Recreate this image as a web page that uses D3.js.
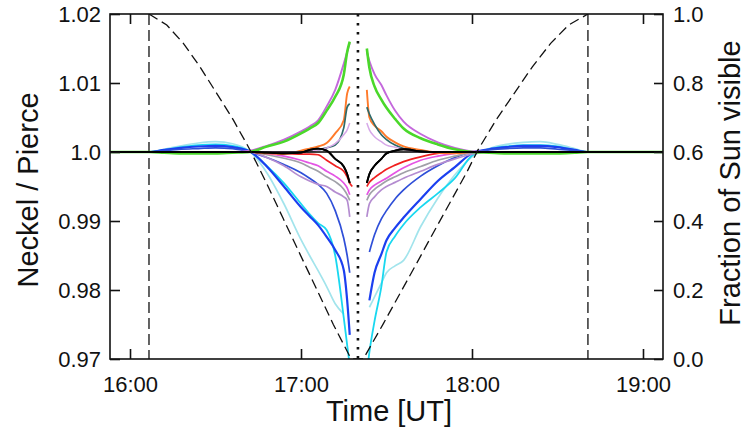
<!DOCTYPE html>
<html><head><meta charset="utf-8">
<script src="https://cdn.jsdelivr.net/npm/d3@7/dist/d3.min.js"></script>
<style>body{margin:0;background:#fff}svg{display:block}text{font-family:"Liberation Sans",Arial,sans-serif;fill:#111}</style>
</head><body>
<svg id="c" width="752" height="430"></svg>
<script>
// ---------- data ----------
const xTicks = [16, 17, 18, 19];
const xTickLabels = ["16:00", "17:00", "18:00", "19:00"];
const yLeftTicks = [1.02, 1.01, 1.0, 0.99, 0.98, 0.97];
const yLeftLabels = ["1.02", "1.01", "1.0", "0.99", "0.98", "0.97"];
const yRightTicks = [1.0, 0.8, 0.6, 0.4, 0.2, 0.0];
const yRightLabels = ["1.0", "0.8", "0.6", "0.4", "0.2", "0.0"];

const firstContact = 16.111, maxEclipse = 17.333, lastContact = 18.678;

// fraction of Sun visible (dashed curve)
const fracTime = [16.111,16.215,16.312,16.409,16.507,16.604,16.702,16.799,16.896,16.994,17.092,17.189,17.287,17.305,
                  17.364,17.481,17.579,17.677,17.774,17.871,17.969,18.035,18.141,18.247,18.353,18.460,18.565,18.678];
const fracVis  = [1.000,0.968,0.915,0.847,0.770,0.693,0.606,0.509,0.407,0.304,0.202,0.100,0.006,0.0,
                  0.0,0.102,0.190,0.278,0.366,0.453,0.541,0.606,0.693,0.770,0.847,0.915,0.968,1.000];

// time grids (hours UT) before and after maximum eclipse
const tLeft  = [15.883,16.111,16.2,16.3,16.4,16.5,16.6,16.7,16.8,16.9,17.0,17.05,17.1,17.15,17.2,17.25,17.27,17.285,17.30];
const tRight = [17.37,17.385,17.40,17.43,17.47,17.5,17.55,17.6,17.7,17.8,17.9,18.0,18.1,18.2,18.3,18.4,18.5,18.6,18.678,19.117];

const _ = null;
const paleCyanL = [1,1,1.0004,1.0009,1.0013,1.0015,1.0012,1.0001,0.997,0.9925,0.9873,0.985,0.9828,0.9805,0.978,0.9765,_,_,_];
const cyanL     = [1,1,1.0003,1.0007,1.001,1.0011,1.0009,1.0001,0.998,0.9955,0.9925,0.991,0.9897,0.9887,0.985,0.976,0.972,0.969,0.965];
const blueAL    = [1,1,1.0003,1.0006,1.0008,1.0009,1.0007,1.0001,0.9979,0.995,0.992,0.9907,0.9894,0.9877,0.9858,0.9829,0.9785,0.9735,_];
const blueBL    = [1,1,1.0002,1.0004,1.0005,1.0006,1.0005,1.0,0.9992,0.9982,0.997,0.9962,0.9953,0.994,0.9915,0.9875,0.985,0.9825,_];
const lavenderL = [1,1,1,1,1,1,1,1,0.9992,0.998,0.9964,0.9958,0.9953,0.995,0.9942,0.9935,0.993,0.9906,_];
const grayL     = [1,1,1,1,1,1,1,1,0.9996,0.9991,0.9984,0.9978,0.9972,0.9964,0.9957,0.9946,0.9938,0.993,_];
const magentaL  = [1,1,1,1,1,1,1,1,0.9998,0.9994,0.9988,0.9984,0.998,0.9972,0.9965,0.9955,0.9948,0.9938,_];
const redL      = [1,1,1,1,1,1,1,1,0.9999,0.9998,0.9997,0.9997,0.9996,0.9988,0.998,0.9972,0.9964,0.9955,0.995];
const orangeL   = [1,1,1,1,1,1,1,1,0.9998,0.9997,1.0002,1.0005,1.0008,1.0013,1.0027,1.0046,1.0085,1.0095,_];
const tealL     = [1,1,1,1,1,1,1,1,1,1,1,1.0001,1.0003,1.0006,1.001,1.0035,1.0065,1.007,_];
const lilacL    = [1,1,1,1,1,1,1,1,1,1,1,1.0001,1.0003,1.0006,1.0012,1.0025,1.0032,1.0042,_];
const violetL   = [1,1,1,1,1,1,1,1.0002,1.0009,1.0018,1.003,1.0037,1.0046,1.0066,1.009,1.0128,1.0145,1.0158,_];
const greenL    = [1,1,0.9999,0.9998,0.9998,0.9998,0.9999,1,1.0008,1.0015,1.0027,1.0034,1.0042,1.006,1.008,1.0112,1.0145,1.016,_];
const blackL    = [1,1,1,1,1,1,1,1,0.9999,0.9998,0.9999,1.0003,1.0005,1.0002,0.999,0.9979,0.9968,0.9955,_];

const paleCyanR = [_,_,0.9775,0.979,0.981,0.9825,0.9835,0.9843,0.9892,0.9933,0.9967,0.9993,1.0005,1.0011,1.0014,1.0015,1.0011,1.0005,1,1];
const cyanR     = [0.966,0.968,0.971,0.9755,0.9805,0.9855,0.9878,0.9895,0.992,0.994,0.9962,0.9995,1.0004,1.0008,1.001,1.001,1.0008,1.0003,1,1];
const blueAR    = [_,_,0.9785,0.9825,0.9852,0.9872,0.989,0.9905,0.9932,0.9958,0.9978,0.9998,1.0004,1.0007,1.0009,1.0009,1.0007,1.0003,1,1];
const blueBR    = [_,_,0.9855,0.988,0.9903,0.9915,0.9932,0.9945,0.9965,0.998,0.9992,1.0,1.0003,1.0005,1.0006,1.0006,1.0004,1.0002,1,1];
const lavenderR = [_,0.9906,0.9925,0.9935,0.9945,0.995,0.9956,0.9962,0.9972,0.9982,0.999,0.9997,1,1,1,1,1,1,1,1];
const grayR     = [_,0.993,0.9938,0.9946,0.9953,0.9958,0.9964,0.997,0.9979,0.9988,0.9994,0.9999,1,1,1,1,1,1,1,1];
const magentaR  = [_,0.9938,0.9945,0.9952,0.9958,0.9962,0.997,0.9977,0.9988,0.9994,0.9998,1,1,1,1,1,1,1,1,1];
const redR      = [_,0.995,0.9956,0.9963,0.997,0.9975,0.9981,0.9986,0.9993,0.9998,1,1,1,1,1,1,1,1,1,1];
const orangeR   = [_,1.009,1.005,1.0038,1.003,1.0022,1.0014,1.0008,1.0003,0.9999,0.9998,1,1,1,1,1,1,1,1,1];
const tealR     = [_,1.0065,1.0055,1.004,1.0025,1.0018,1.001,1.0005,1.0001,1,1,1,1,1,1,1,1,1,1,1];
const lilacR    = [_,1.0042,1.0032,1.0022,1.0015,1.001,1.0007,1.0004,1,1,1,1,1,1,1,1,1,1,1,1];
const violetR   = [_,1.0145,1.0132,1.0113,1.0097,1.0082,1.006,1.0044,1.0026,1.0014,1.0006,1.0001,1,1,1,1,1,1,1,1];
const greenR    = [_,1.015,1.0122,1.0095,1.0076,1.0064,1.0048,1.0034,1.002,1.0011,1.0004,1,0.9999,0.9998,0.9998,0.9998,0.9998,0.9999,1,1];
const blackR    = [_,0.9955,0.9968,0.998,0.999,0.9998,1.0002,1.0004,1.0001,1,1,1,1,1,1,1,1,1,1,1];

const seriesNames  = ["paleCyan","cyan","blueA","blueB","lavender","gray","magenta","red","orange","teal","lilac","violet","green","black"];
const seriesColors = ["#a2e4ec","#19d8f0","#1b3ff0","#2f4fd8","#b48cd0","#a0a0a8","#e455e4","#f02020","#ff7a2a","#2f6a6a","#d6a8e8","#c468dc","#4ad82a","#000000"];
const seriesWidths = [1.7,1.8,2.2,1.7,1.7,1.7,1.7,1.7,1.9,1.7,1.5,1.9,2.6,1.8];
const seriesLeft   = [paleCyanL,cyanL,blueAL,blueBL,lavenderL,grayL,magentaL,redL,orangeL,tealL,lilacL,violetL,greenL,blackL];
const seriesRight  = [paleCyanR,cyanR,blueAR,blueBR,lavenderR,grayR,magentaR,redR,orangeR,tealR,lilacR,violetR,greenR,blackR];

// ---------- chart ----------
const svg = d3.select("#c");
const L = 110, R = 663, T = 14, B = 359;
const FONT = "'Liberation Sans',Arial,sans-serif";
const x = d3.scaleLinear().domain([15.883, 19.117]).range([L, R]);
const yL = d3.scaleLinear().domain([0.97, 1.02]).range([B, T]);
const yR = d3.scaleLinear().domain([0, 1]).range([B, T]);

svg.append("defs").append("clipPath").attr("id","clip")
  .append("rect").attr("x",L).attr("y",T).attr("width",R-L).attr("height",B-T);
const plot = svg.append("g").attr("clip-path","url(#clip)");

// eclipse contact lines
[firstContact, lastContact].forEach(t => {
  plot.append("line").attr("x1",x(t)).attr("x2",x(t)).attr("y1",T).attr("y2",B)
    .attr("stroke","#111").attr("stroke-width",1.3).attr("stroke-dasharray","11,5");
});

const line = d3.line().defined(d => d[1] !== null).x(d => x(d[0])).y(d => yL(d[1]))
  .curve(d3.curveMonotoneX);
seriesNames.forEach((n, i) => {
  [[tLeft, seriesLeft[i]], [tRight, seriesRight[i]]].forEach(([tt, vv]) => {
    plot.append("path").datum(tt.map((t, k) => [t, vv[k]]))
      .attr("d", line).attr("fill","none")
      .attr("stroke", seriesColors[i]).attr("stroke-width", seriesWidths[i])
      .attr("stroke-linejoin","round");
  });
});

// ratio = 1 reference line
plot.append("line").attr("x1",L).attr("x2",R).attr("y1",yL(1.0)).attr("y2",yL(1.0))
  .attr("stroke","#000").attr("stroke-width",1.5);
// black series on top
[[tLeft, blackL],[tRight, blackR]].forEach(([tt, vv]) => {
  plot.append("path").datum(tt.map((t,k)=>[t,vv[k]])).attr("d",line).attr("fill","none")
    .attr("stroke","#000").attr("stroke-width",1.8);
});

// fraction visible dashed curve
const fline = d3.line().x(d => x(d[0])).y(d => yR(d[1]));
plot.append("path").datum(fracTime.map((t,k)=>[t,fracVis[k]])).attr("d",fline)
  .attr("fill","none").attr("stroke","#111").attr("stroke-width",1.3).attr("stroke-dasharray","10,5");

// maximum eclipse dotted line
plot.append("line").attr("x1",x(maxEclipse)).attr("x2",x(maxEclipse)).attr("y1",T).attr("y2",B)
  .attr("stroke","#111").attr("stroke-width",2.6).attr("stroke-dasharray","2.6,6.4");

// frame
svg.append("rect").attr("x",L).attr("y",T).attr("width",R-L).attr("height",B-T)
  .attr("fill","none").attr("stroke","#111").attr("stroke-width",1.6);

// axes (ticks inward)
const axB = svg.append("g").attr("transform",`translate(0,${B})`)
  .call(d3.axisBottom(x).tickValues(xTicks).tickFormat((d,i)=>xTickLabels[i]).tickSizeInner(-10).tickSizeOuter(0).tickPadding(17));
const axT = svg.append("g").attr("transform",`translate(0,${T})`)
  .call(d3.axisTop(x).tickValues(xTicks).tickFormat("").tickSizeInner(-10).tickSizeOuter(0));
const axL = svg.append("g").attr("transform",`translate(${L},0)`)
  .call(d3.axisLeft(yL).tickValues(yLeftTicks).tickFormat((d,i)=>yLeftLabels[i]).tickSizeInner(-10).tickSizeOuter(0).tickPadding(9));
const axR = svg.append("g").attr("transform",`translate(${R},0)`)
  .call(d3.axisRight(yR).tickValues(yRightTicks).tickFormat((d,i)=>yRightLabels[i]).tickSizeInner(-9).tickSizeOuter(0).tickPadding(10));
[axB,axT,axL,axR].forEach(a => {
  a.select(".domain").remove();
  a.selectAll(".tick line").attr("stroke","#111").attr("stroke-width",1.6);
  a.selectAll("text").attr("font-size",22).attr("fill","#111").style("font-family",FONT);
});

svg.append("text").attr("x",389).attr("y",421).attr("text-anchor","middle")
  .attr("font-size",29).text("Time [UT]");
svg.append("text").attr("transform",`translate(38,190) rotate(-90)`).attr("text-anchor","middle")
  .attr("font-size",29).text("Neckel / Pierce");
svg.append("text").attr("transform",`translate(740,183) rotate(-90)`).attr("text-anchor","middle")
  .attr("font-size",29).text("Fraction of Sun visible");
</script>
</body></html>
